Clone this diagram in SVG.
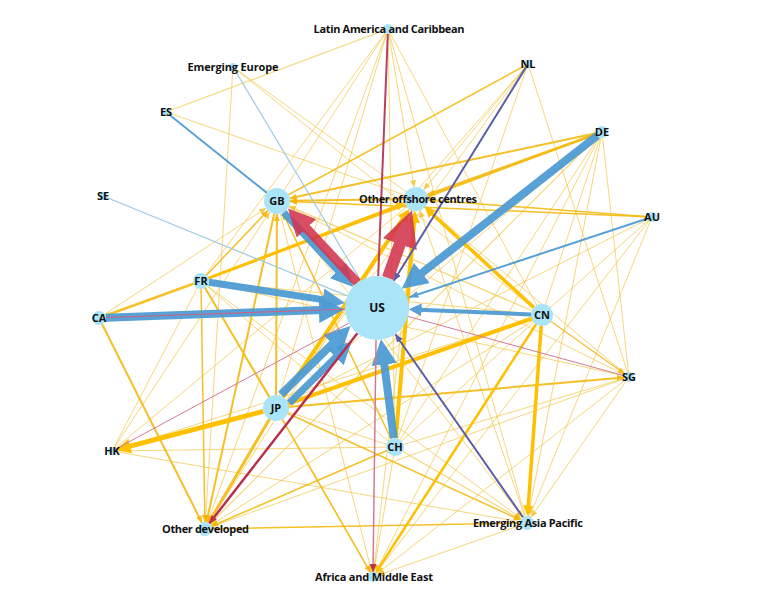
<svg xmlns="http://www.w3.org/2000/svg" width="777" height="602" viewBox="0 0 777 602">
<style>
.t{stroke:#F2C644;stroke-width:1;opacity:0.7;fill:none}
.m{stroke:#F5BA10;fill:none;opacity:0.9}
.k{stroke:#FFC000;fill:none}
.b{stroke:#4A9AD4;fill:none;opacity:0.92}
.lb{stroke:#9EC9E3;stroke-width:1.2;fill:none}
.r{stroke:#D2354F;fill:none;opacity:0.88}
.pk{stroke:#D27A95;stroke-width:1;fill:none}
.pu{stroke:#5B5EA6;stroke-width:2;fill:none}
.ty{marker-end:url(#ty)}
.n{fill:#A9E4F9}
.l{font-family:'Open Sans','Noto Sans','DejaVu Sans',sans-serif;font-weight:700;font-size:11px;fill:#111;text-anchor:middle}
</style>
<defs>
<marker id="ky" viewBox="0 0 10 10" refX="6.67" refY="5" markerWidth="3" markerHeight="3" markerUnits="strokeWidth" orient="auto"><path d="M0,0L10,5L0,10z" fill="#FFC000"/></marker>
<marker id="kb" viewBox="0 0 10 10" refX="6.67" refY="5" markerWidth="3.2" markerHeight="3.2" markerUnits="strokeWidth" orient="auto"><path d="M0,0L10,5L0,10z" fill="#4A9AD4"/></marker>
<marker id="kr" viewBox="0 0 10 10" refX="6.67" refY="5" markerWidth="3" markerHeight="3" markerUnits="strokeWidth" orient="auto"><path d="M0,0L10,5L0,10z" fill="#D2354F"/></marker>
<marker id="ty" viewBox="0 0 10 10" refX="10" refY="5" markerWidth="7" markerHeight="6" markerUnits="userSpaceOnUse" orient="auto" preserveAspectRatio="none"><path d="M0,0L10,5L0,10z" fill="#F5B400"/></marker>
<marker id="tb" viewBox="0 0 10 10" refX="10" refY="5" markerWidth="9" markerHeight="7" markerUnits="userSpaceOnUse" orient="auto" preserveAspectRatio="none"><path d="M0,0L10,5L0,10z" fill="#4A9AD4"/></marker>
<marker id="tr" viewBox="0 0 10 10" refX="10" refY="5" markerWidth="8" markerHeight="7" markerUnits="userSpaceOnUse" orient="auto" preserveAspectRatio="none"><path d="M0,0L10,5L0,10z" fill="#C0304A"/></marker>
<marker id="tp" viewBox="0 0 10 10" refX="10" refY="5" markerWidth="8" markerHeight="7" markerUnits="userSpaceOnUse" orient="auto" preserveAspectRatio="none"><path d="M0,0L10,5L0,10z" fill="#5B5EA6"/></marker>
</defs>
<rect width="777" height="602" fill="#ffffff"/>
<g id="connectors">
<line class="t" x1="277" y1="201" x2="629" y2="377"/>
<line class="t" x1="201" y1="281" x2="542" y2="315"/>
<line class="t" x1="201" y1="281" x2="629" y2="377"/>
<line class="t" x1="201" y1="281" x2="395" y2="447"/>
<line class="t" x1="201" y1="281" x2="112" y2="451"/>
<line class="t" x1="201" y1="281" x2="373" y2="577"/>
<line class="t" x1="276" y1="408" x2="395" y2="447"/>
<line class="t" x1="276" y1="408" x2="602" y2="132"/>
<line class="t" x1="276" y1="408" x2="528" y2="64"/>
<line class="t" x1="276" y1="408" x2="388" y2="29"/>
<line class="t" x1="276" y1="408" x2="652" y2="217"/>
<line class="t" x1="395" y1="447" x2="112" y2="451"/>
<line class="t" x1="395" y1="447" x2="629" y2="377"/>
<line class="t" x1="395" y1="447" x2="542" y2="315"/>
<line class="t" x1="395" y1="447" x2="602" y2="132"/>
<line class="t" x1="395" y1="447" x2="388" y2="29"/>
<line class="t" x1="395" y1="447" x2="528" y2="64"/>
<line class="t" x1="542" y1="315" x2="112" y2="451"/>
<line class="t" x1="542" y1="315" x2="602" y2="132"/>
<line class="t" x1="542" y1="315" x2="652" y2="217"/>
<line class="t" x1="542" y1="315" x2="388" y2="29"/>
<line class="t" x1="542" y1="315" x2="233" y2="67"/>
<line class="t" x1="602" y1="132" x2="629" y2="377"/>
<line class="t" x1="602" y1="132" x2="373" y2="577"/>
<line class="t" x1="652" y1="217" x2="373" y2="577"/>
<line class="t" x1="652" y1="217" x2="527" y2="523"/>
<line class="t" x1="528" y1="64" x2="629" y2="377"/>
<line class="t" x1="528" y1="64" x2="412" y2="196"/>
<line class="t" x1="629" y1="377" x2="205" y2="529"/>
<line class="t" x1="112" y1="451" x2="527" y2="523"/>
<line class="t" x1="112" y1="451" x2="416" y2="199"/>
<line class="t" x1="388" y1="29" x2="277" y2="201"/>
<line class="t" x1="388" y1="29" x2="201" y2="281"/>
<line class="t" x1="388" y1="29" x2="527" y2="523"/>
<line class="t" x1="388" y1="29" x2="166" y2="112" style="stroke-width:1.3"/>
<line class="t" x1="166" y1="112" x2="416" y2="199"/>
<line class="t" x1="233" y1="67" x2="416" y2="199"/>
<line class="t" x1="233" y1="67" x2="205" y2="529"/>
<line class="m" x1="99" y1="318" x2="201" y2="281" style="stroke-width:2.5"/>
<line class="m" x1="201" y1="281" x2="276" y2="408" style="stroke-width:2"/>
<line class="m" x1="528" y1="64" x2="277" y2="201" style="stroke-width:1.5"/>
<line class="m" x1="602" y1="132" x2="201" y2="281" style="stroke-width:2"/>
<line class="m" x1="205" y1="529" x2="527" y2="523" style="stroke-width:1.5"/>
<line class="m ty" x1="416" y1="199" x2="290" y2="200.8" style="stroke-width:2"/>
<line class="m ty" x1="602" y1="132" x2="289.7" y2="198.3" style="stroke-width:2"/>
<line class="m ty" x1="652" y1="217" x2="290" y2="201.6" style="stroke-width:1.5"/>
<line class="t ty" x1="542" y1="315" x2="288.9" y2="206.1" style="stroke-width:1.2"/>
<line class="m ty" x1="276" y1="408" x2="276.9" y2="214" style="stroke-width:2"/>
<line class="m ty" x1="201" y1="281" x2="268" y2="210.4" style="stroke-width:1.5"/>
<line class="m ty" x1="395" y1="447" x2="282.6" y2="212.7" style="stroke-width:1.5"/>
<line class="t ty" x1="112" y1="451" x2="269.8" y2="211.9"/>
<line class="t ty" x1="99" y1="318" x2="266.1" y2="208.1"/>
<line class="m ty" x1="602" y1="132" x2="427.3" y2="194.9" style="stroke-width:2.5"/>
<line class="m ty" x1="652" y1="217" x2="428" y2="199.9" style="stroke-width:1.5"/>
<line class="t ty" x1="528" y1="64" x2="423.7" y2="189.8"/>
<line class="t ty" x1="388" y1="29" x2="414.1" y2="187.2"/>
<line class="t ty" x1="527" y1="523" x2="419.9" y2="210.4"/>
<line class="t ty" x1="629" y1="377" x2="425.2" y2="206.7"/>
<line class="m ty" x1="276" y1="408" x2="208.5" y2="523" style="stroke-width:3"/>
<line class="m ty" x1="99" y1="318" x2="201.9" y2="522.7" style="stroke-width:2"/>
<line class="m ty" x1="201" y1="281" x2="204.9" y2="522" style="stroke-width:1.5"/>
<line class="m ty" x1="277" y1="201" x2="206.5" y2="522.2" style="stroke-width:2"/>
<line class="m ty" x1="395" y1="447" x2="211.4" y2="526.2" style="stroke-width:1.5"/>
<line class="t ty" x1="542" y1="315" x2="210.9" y2="525.2"/>
<line class="t ty" x1="416" y1="199" x2="208.8" y2="523.1"/>
<line class="t ty" x1="602" y1="132" x2="210" y2="524" style="stroke-width:1.2"/>
<line class="t ty" x1="388" y1="29" x2="207.4" y2="522.4"/>
<line class="m ty" x1="276" y1="408" x2="370.5" y2="572.7" style="stroke-width:1.5"/>
<line class="t ty" x1="277" y1="201" x2="371.8" y2="572.2"/>
<line class="t ty" x1="527" y1="523" x2="377.7" y2="575.3"/>
<line class="t ty" x1="629" y1="377" x2="376.9" y2="573.9"/>
<line class="t ty" x1="395" y1="447" x2="373.8" y2="572.1"/>
<line class="t ty" x1="416" y1="199" x2="373.6" y2="572"/>
<line class="t ty" x1="629" y1="377" x2="531" y2="517.3"/>
<line class="m ty" x1="276" y1="408" x2="520.6" y2="520.1" style="stroke-width:1.5"/>
<line class="t ty" x1="395" y1="447" x2="520.9" y2="519.5" style="stroke-width:1.2"/>
<line class="t ty" x1="277" y1="201" x2="522.7" y2="517.5"/>
<line class="t ty" x1="602" y1="132" x2="528.3" y2="516.1"/>
<line class="t ty" x1="201" y1="281" x2="521.4" y2="518.8"/>
<line class="m ty" x1="542" y1="315" x2="624.9" y2="374.1" style="stroke-width:1.2"/>
<line class="m ty" x1="276" y1="408" x2="624" y2="377.4" style="stroke-width:2"/>
<line class="k" x1="276" y1="408" x2="542" y2="315" style="stroke-width:4"/>
<line class="k" x1="283.2" y1="397.2" x2="407.1" y2="212.3" style="stroke-width:4" marker-end="url(#ky)"/>
<line class="k" x1="395.8" y1="438" x2="414.7" y2="215" style="stroke-width:4" marker-end="url(#ky)"/>
<line class="k" x1="533.9" y1="307.6" x2="427.4" y2="209.5" style="stroke-width:3.5" marker-end="url(#ky)"/>
<line class="k" x1="208.5" y1="278.2" x2="402" y2="204.4" style="stroke-width:3" marker-end="url(#ky)"/>
<line class="k" x1="263.4" y1="411.3" x2="120.7" y2="448.7" style="stroke-width:5" marker-end="url(#ky)"/>
<line class="k" x1="542" y1="315" x2="527.8" y2="512.5" style="stroke-width:3.5" marker-end="url(#ky)"/>
<line class="k" x1="542" y1="315" x2="377.1" y2="570.7" style="stroke-width:2.5" marker-end="url(#ky)"/>
<line class="lb" x1="103" y1="196" x2="347.4" y2="295.9"/>
<line class="lb" x1="233" y1="67" x2="360.6" y2="280.5"/>
<line class="b" x1="166" y1="112" x2="266.9" y2="192.9" style="stroke-width:2"/>
<line class="b" x1="652" y1="217" x2="409.3" y2="297.3" style="stroke-width:2" marker-end="url(#tb)"/>
<line class="b" x1="531" y1="314.5" x2="413" y2="309.5" style="stroke-width:4" marker-end="url(#kb)"/>
<line class="b" x1="597.3" y1="135.7" x2="408.5" y2="283.4" style="stroke-width:8" marker-end="url(#kb)"/>
<line class="b" x1="393.8" y1="438.1" x2="382.1" y2="347.6" style="stroke-width:8" marker-end="url(#kb)"/>
<line class="b" x1="106" y1="317.7" x2="336" y2="309.5" style="stroke-width:8" marker-end="url(#kb)"/>
<line class="pk" x1="106" y1="317.5" x2="345" y2="309.2" style="stroke:#D06080"/>
<line class="b" x1="208.9" y1="282.2" x2="337.5" y2="301.9" style="stroke-width:7" marker-end="url(#kb)"/>
<line class="b" x1="281" y1="394.5" x2="344.4" y2="331.9" style="stroke-width:8" marker-end="url(#kb)"/>
<line class="b" x1="289.4" y1="403.1" x2="346.4" y2="346.8" style="stroke-width:7" marker-end="url(#kb)"/>
<line class="b" x1="283.7" y1="212.5" x2="348.2" y2="281.5" style="stroke-width:7" marker-end="url(#kb)"/>
<line class="r" x1="357.3" y1="282.6" x2="294.2" y2="215.1" style="stroke-width:9" marker-end="url(#kr)"/>
<line class="r" x1="387.8" y1="277.9" x2="407.9" y2="221.6" style="stroke-width:12" marker-end="url(#kr)"/>
<line x1="387.8" y1="34" x2="378.2" y2="276" style="stroke:#B8405F;stroke-width:2"/>
<line class="pk" x1="376" y1="340" x2="373" y2="572" style="stroke-width:1.5" marker-end="url(#tr)"/>
<line x1="357.4" y1="333.2" x2="209.3" y2="523.5" style="stroke:#B8304E;stroke-width:2.5" marker-end="url(#tr)"/>
<line class="pk" x1="112" y1="451" x2="348.8" y2="323.2"/>
<line class="pk" x1="629" y1="377" x2="407.9" y2="316.4"/>
<line class="pu" x1="525.9" y1="67.4" x2="393.8" y2="280.8" marker-end="url(#tp)"/>
<line class="pu" x1="523" y1="517.3" x2="395.3" y2="334.2" marker-end="url(#tp)"/>
</g>
<g id="node-US"><circle class="n" cx="377" cy="308" r="32"/><text class="l" x="377" y="312" style="font-size:12px">US</text></g>
<g id="node-GB"><circle class="n" cx="277" cy="201" r="13"/><text class="l" x="277" y="205">GB</text></g>
<g id="node-OOC"><circle class="n" cx="416" cy="199" r="12"/><text class="l" x="418" y="203" textLength="118">Other offshore centres</text></g>
<g id="node-FR"><circle class="n" cx="201" cy="281" r="8"/><text class="l" x="201" y="285">FR</text></g>
<g id="node-CA"><circle class="n" cx="99" cy="318" r="7"/><text class="l" x="99" y="322">CA</text></g>
<g id="node-JP"><circle class="n" cx="276" cy="408" r="13"/><text class="l" x="276" y="412">JP</text></g>
<g id="node-CH"><circle class="n" cx="395" cy="447" r="9"/><text class="l" x="395" y="451">CH</text></g>
<g id="node-CN"><circle class="n" cx="542" cy="315" r="11"/><text class="l" x="542" y="319">CN</text></g>
<g id="node-SG"><circle class="n" cx="629" cy="377" r="5"/><text class="l" x="629" y="381">SG</text></g>
<g id="node-AU"><circle class="n" cx="652" cy="217" r="5"/><text class="l" x="652" y="221">AU</text></g>
<g id="node-DE"><circle class="n" cx="602" cy="132" r="6"/><text class="l" x="602" y="136">DE</text></g>
<g id="node-NL"><circle class="n" cx="528" cy="64" r="4"/><text class="l" x="528" y="68">NL</text></g>
<g id="node-LAC"><circle class="n" cx="388" cy="29" r="5"/><text class="l" x="389" y="33" textLength="151">Latin America and Caribbean</text></g>
<g id="node-EE"><circle class="n" cx="233" cy="67" r="4"/><text class="l" x="233" y="71" textLength="91">Emerging Europe</text></g>
<g id="node-ES"><circle class="n" cx="166" cy="112" r="4"/><text class="l" x="166" y="116">ES</text></g>
<g id="node-SE"><circle class="n" cx="103" cy="196" r="4"/><text class="l" x="103" y="200">SE</text></g>
<g id="node-HK"><circle class="n" cx="112" cy="451" r="4"/><text class="l" x="112" y="455">HK</text></g>
<g id="node-OD"><circle class="n" cx="205" cy="529" r="7"/><text class="l" x="205.5" y="533" textLength="87">Other developed</text></g>
<g id="node-AME"><circle class="n" cx="373" cy="577" r="5"/><text class="l" x="374" y="581" textLength="118">Africa and Middle East</text></g>
<g id="node-EAP"><circle class="n" cx="527" cy="523" r="7"/><text class="l" x="528" y="527" textLength="110">Emerging Asia Pacific</text></g>
</svg>
